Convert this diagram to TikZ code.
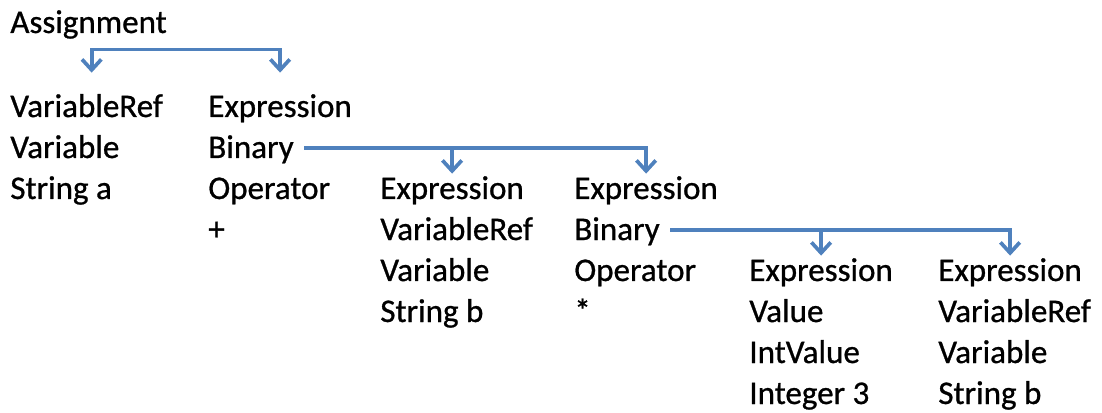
\documentclass[tikz,border=0pt]{standalone}
\usepackage{fontspec}
\setmainfont{Carlito}
\newfontfamily\astfont{Carlito}[FakeBold=0.8]
\usepackage{tikz}
\usetikzlibrary{arrows.meta}
\definecolor{astblue}{RGB}{79,129,189}
\tikzset{astline/.style={anchor=base west, inner sep=0pt, text height=0.4cm, text depth=0pt, font=\astfont\fontsize{18.8}{22}\selectfont}}
\tikzset{astconn/.style={draw=astblue, line width=2.1pt, >={Straight Barb[length=6pt,width=11pt]}}}
\newcommand{\astline}[3]{
	\node[astline] (#1) at (#2) {#3};}

\begin{document}
\begin{tikzpicture}
	\useasboundingbox (0,0) rectangle (22.04,-8.26);

	\astline{asg}{0.20,-0.66}{Assignment}

	\astline{vref}{0.20,-2.34}{VariableRef}
	\astline{var}{0.20,-3.16}{Variable}
	\astline{stra}{0.20,-3.98}{String a}

	\astline{expr}{4.16,-2.34}{Expression}
	\astline{bina}{4.16,-3.16}{Binary}
	\astline{opa}{4.16,-3.98}{Operator}
	\astline{plus}{4.16,-4.80}{+}

	\astline{exb}{7.60,-3.98}{Expression}
	\astline{vrefb}{7.60,-4.80}{VariableRef}
	\astline{varb}{7.60,-5.62}{Variable}
	\astline{strb}{7.60,-6.44}{String b}

	\astline{exc}{11.48,-3.98}{Expression}
	\astline{binc}{11.48,-4.80}{Binary}
	\astline{opc}{11.48,-5.62}{Operator}
	\astline{times}{11.48,-6.44}{*}

	\astline{exd}{14.98,-5.62}{Expression}
	\astline{val}{14.98,-6.44}{Value}
	\astline{ival}{14.98,-7.26}{IntValue}
	\astline{int}{14.98,-8.08}{Integer 3}

	\astline{exe}{18.76,-5.62}{Expression}
	\astline{vrefe}{18.76,-6.44}{VariableRef}
	\astline{vare}{18.76,-7.26}{Variable}
	\astline{stre}{18.76,-8.08}{String b}

	\draw[astconn,<->] ([xshift=0.1cm,yshift=0.48cm]vref.north) |- ([yshift=0.94cm]expr.north) -- ([yshift=0.48cm]expr.north);
	\draw[astconn,->] ([xshift=0.2cm]bina.east) -| ([yshift=0.1cm]exb.north);
	\draw[astconn,->] ([xshift=0.2cm]bina.east) -| ([yshift=0.1cm]exc.north);
	\draw[astconn,->] ([xshift=0.2cm]binc.east) -| ([yshift=0.1cm]exd.north);
	\draw[astconn,->] ([xshift=0.2cm]binc.east) -| ([yshift=0.1cm]exe.north);
\end{tikzpicture}
\end{document}
